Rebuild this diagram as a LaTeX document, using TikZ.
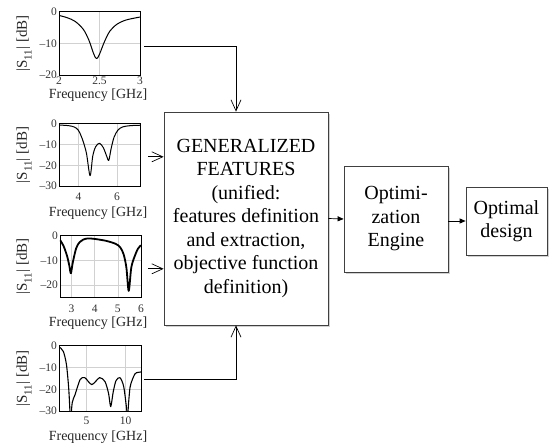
\documentclass[tikz,border=0pt]{standalone}
\usepackage{fontspec}
\setmainfont{Liberation Serif}
\usetikzlibrary{arrows.meta,shadows}
\newcommand{\sxx}{|S\raisebox{-0.32em}{\fontsize{11}{11}\selectfont 11}| [dB]}
\begin{document}
\begin{tikzpicture}[x=1pt,y=1pt,
  box/.style={draw=black!75, line width=0.7pt, fill=white, align=center, inner sep=0pt,
    font=\fontsize{20}{23.5}\selectfont,
    drop shadow={shadow xshift=1.8pt, shadow yshift=-1.8pt, fill=black, opacity=0.18}},
  axarea/.style={inner sep=0pt, anchor=south west},
  frame/.style={draw=black, line width=0.8pt},
  gridl/.style={draw=black!18, line width=0.5pt},
  curve/.style={line width=1pt, line join=round},
  tk/.style={inner sep=0pt, font=\fontsize{11.5}{11.5}\selectfont, text=black!80},
  xl/.style={inner sep=0pt, font=\fontsize{14}{14}\selectfont, text=black!85},
  yl/.style={inner sep=0pt, rotate=90, font=\fontsize{15}{15}\selectfont, text=black!85},
  vtip/.style={line width=0.7pt, -{Straight Barb[length=11pt,width=10pt,line width=0.7pt]}},
  ftip/.style={line width=0.7pt, -{Triangle[length=6pt,width=5pt]}}
]
\useasboundingbox (0,0) rectangle (550,448);

% ---------------- plot 1 ----------------
\node[axarea, minimum width=81pt, minimum height=63pt] (ax1) at (59,373) {};
\begin{scope}[shift={(-103,436)}, x=81pt, y=3.15pt]
  \draw[gridl] (2.5,-20) -- (2.5,0);
  \draw[gridl] (2,-10) -- (3,-10);
  \begin{scope}
    \clip (2,-20) rectangle (3,0);
    \draw[curve] plot[smooth, tension=0.55] coordinates {(2,-1.1) (2.1,-1.8) (2.2,-3.0) (2.3,-5.5) (2.37,-9) (2.43,-13.4) (2.465,-14.8) (2.5,-13.4) (2.56,-9.5) (2.63,-6) (2.72,-3.8) (2.82,-2.6) (2.92,-2.0) (3,-1.6)};
  \end{scope}
\end{scope}
\draw[frame] (ax1.south west) rectangle (ax1.north east);
\node[tk, anchor=east] (p1y0) at (57,436) {0};
\node[tk, anchor=east] (p1y1) at (57,404.5) {–10};
\node[tk, anchor=east] (p1y2) at (57,373) {–20};
\node[tk] (p1x0) at (59,367.5) {2};
\node[tk] (p1x1) at (99.5,367.5) {2.5};
\node[tk] (p1x2) at (140,367.5) {3};
\node[xl] (p1xl) at (98,353) {Frequency [GHz]};
\node[yl] (p1yl) at (24,404.5) {\sxx};

% ---------------- plot 2 ----------------
\node[axarea, minimum width=81pt, minimum height=62pt] (ax2) at (59,262) {};
\begin{scope}[shift={(1.13,324)}, x=19.29pt, y=2.067pt]
  \draw[gridl] (4,-30) -- (4,0);
  \draw[gridl] (6,-30) -- (6,0);
  \draw[gridl] (3,-10) -- (7.2,-10);
  \draw[gridl] (3,-20) -- (7.2,-20);
  \begin{scope}
    \clip (3,-30) rectangle (7.2,0);
    \draw[curve] plot[smooth, tension=0.5] coordinates {(3,-0.5) (3.5,-0.8) (3.8,-1.5) (4.0,-3) (4.2,-7) (4.42,-14) (4.61,-25) (4.75,-15.5) (4.9,-11) (5.1,-9.3) (5.3,-11.5) (5.47,-15.5) (5.58,-17.6) (5.7,-12) (5.85,-6.5) (6.05,-3) (6.3,-1.4) (6.7,-0.8) (7.2,-0.6)};
  \end{scope}
\end{scope}
\draw[frame] (ax2.south west) rectangle (ax2.north east);
\node[tk, anchor=east] (p2y0) at (57,324) {0};
\node[tk, anchor=east] (p2y1) at (57,303.3) {–10};
\node[tk, anchor=east] (p2y2) at (57,282.7) {–20};
\node[tk, anchor=east] (p2y3) at (57,262) {–30};
\node[tk] (p2x0) at (78.4,251.5) {4};
\node[tk] (p2x1) at (117,251.5) {6};
\node[xl] (p2xl) at (98,235) {Frequency [GHz]};
\node[yl] (p2yl) at (24,293) {\sxx};

% ---------------- plot 3 ----------------
\node[axarea, minimum width=81pt, minimum height=61pt] (ax3) at (60,151) {};
\begin{scope}[shift={(2.14,212)}, x=23.14pt, y=2.44pt]
  \draw[gridl] (3,-25) -- (3,0);
  \draw[gridl] (4,-25) -- (4,0);
  \draw[gridl] (5,-25) -- (5,0);
  \draw[gridl] (2.5,-10) -- (6,-10);
  \draw[gridl] (2.5,-20) -- (6,-20);
  \begin{scope}
    \clip (2.5,-25) rectangle (6,0);
    \draw[curve, line width=1.8pt] plot[smooth, tension=0.5] coordinates {(2.5,-1.6) (2.65,-4) (2.8,-8) (2.9,-12) (2.97,-15.3) (3.05,-11) (3.2,-5) (3.35,-2.5) (3.5,-1.5) (3.7,-1.0) (4.0,-1.2) (4.5,-2) (4.9,-3.2) (5.1,-4.6) (5.25,-7.5) (5.37,-13) (5.47,-22.5) (5.58,-13) (5.72,-8.5) (5.87,-5.2) (6,-3.8)};
  \end{scope}
\end{scope}
\draw[frame] (ax3.south west) rectangle (ax3.north east);
\node[tk, anchor=east] (p3y0) at (58,212) {0};
\node[tk, anchor=east] (p3y1) at (58,187.6) {–10};
\node[tk, anchor=east] (p3y2) at (58,163.2) {–20};
\node[tk] (p3x0) at (71.6,139) {3};
\node[tk] (p3x1) at (94.7,139) {4};
\node[tk] (p3x2) at (117.8,139) {5};
\node[tk] (p3x3) at (141,139) {6};
\node[xl] (p3xl) at (98,125) {Frequency [GHz]};
\node[yl] (p3yl) at (24,181.5) {\sxx};

% ---------------- plot 4 ----------------
\node[axarea, minimum width=82pt, minimum height=65pt] (ax4) at (59,37) {};
\begin{scope}[shift={(47.3,102)}, x=7.81pt, y=2.167pt]
  \draw[gridl] (5,-30) -- (5,0);
  \draw[gridl] (10,-30) -- (10,0);
  \draw[gridl] (1.5,-10) -- (12,-10);
  \draw[gridl] (1.5,-20) -- (12,-20);
  \begin{scope}
    \clip (1.5,-30) rectangle (12,0);
    \draw[curve, line width=1.1pt] plot[smooth, tension=0.45] coordinates {(1.55,-0.5) (2.05,-2.5) (2.45,-8.5) (2.75,-20) (2.95,-34)};
    \draw[curve, line width=1.1pt] plot[smooth, tension=0.45] coordinates {(3.0,-34) (3.2,-26) (3.55,-22.5) (4.2,-15.5) (4.8,-14.6) (5.7,-17.8) (6.7,-14.6) (7.4,-16.5) (7.85,-22) (8.12,-28) (8.45,-21) (8.8,-16) (9.3,-14.6) (9.8,-19) (10.25,-32)};
    \draw[curve, line width=1.1pt] plot[smooth, tension=0.45] coordinates {(10.3,-32) (10.6,-19) (11.2,-13) (11.6,-12.2) (12,-12)};
  \end{scope}
\end{scope}
\draw[frame] (ax4.south west) rectangle (ax4.north east);
\node[tk, anchor=east] (p4y0) at (57,102) {0};
\node[tk, anchor=east] (p4y1) at (57,80.3) {–10};
\node[tk, anchor=east] (p4y2) at (57,58.7) {–20};
\node[tk, anchor=east] (p4y3) at (57,37) {–30};
\node[tk] (p4x0) at (86.6,27) {5};
\node[tk] (p4x1) at (125.6,27) {10};
\node[xl] (p4xl) at (98,11) {Frequency [GHz]};
\node[yl] (p4yl) at (24,69.5) {\sxx};

% ---------------- blocks ----------------
\node[box, minimum width=164pt, minimum height=213pt] (main) at (246,229.5)
  {GENERALIZED\\FEATURES\\(unified:\\features definition\\and extraction,\\objective function\\definition)};
\node[box, minimum width=104pt, minimum height=106pt] (engine) at (396,229)
  {Optimi-\\zation\\Engine};
\node[box, minimum width=81pt, minimum height=68pt] (design) at (506.5,227)
  {Optimal\\design};

% ---------------- connectors ----------------
\draw[vtip] ([xshift=4pt,yshift=-3.5pt]ax1.east) -| ([xshift=-10pt]main.north);
\draw[vtip] ([xshift=8pt,yshift=-2pt]ax2.east) -- ([yshift=-2pt]ax2.east -| main.west);
\draw[vtip] ([xshift=7pt,yshift=-2.5pt]ax3.east) -- ([yshift=-2.5pt]ax3.east -| main.west);
\draw[vtip] ([xshift=3pt,yshift=-1.5pt]ax4.east) -| ([xshift=-10pt]main.south);
\draw[ftip] (main.east) -- (engine.west);
\draw[ftip] (design.west -| engine.east) -- (design.west);
\end{tikzpicture}
\end{document}
